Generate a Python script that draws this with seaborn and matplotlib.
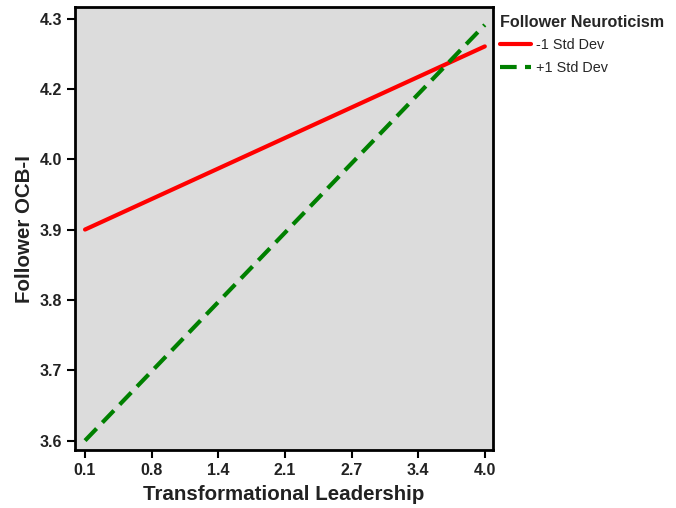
import pandas as pd
import numpy as np
import seaborn as sns
import matplotlib.pyplot as plt

# donnees (pentes simples)
leadership = [0.1, 4.0]
ocb_minus = [3.933, 4.222]   # -1 Std Dev
ocb_plus = [3.600, 4.256]    # +1 Std Dev
groups = ['-1 Std Dev', '+1 Std Dev']

x_ticks = [0.1, 0.75, 1.4, 2.05, 2.7, 3.35, 4.0]
x_tick_labels = ['0.1', '0.8', '1.4', '2.1', '2.7', '3.4', '4.0']
y_ticks = [3.6, 3.711, 3.822, 3.933, 4.044, 4.155, 4.266]
y_tick_labels = ['3.6', '3.7', '3.8', '3.9', '4.0', '4.2', '4.3']

df = pd.DataFrame({
    'Transformational Leadership': leadership * 2,
    'Follower OCB-I': ocb_minus + ocb_plus,
    'Follower Neuroticism': [groups[0]] * 2 + [groups[1]] * 2,
})

sns.set_style('white')
plt.rcParams['font.family'] = ['Liberation Sans', 'DejaVu Sans']

fig = plt.figure(figsize=(6.76, 5.08), dpi=100)
ax = fig.add_axes([0.111, 0.114, 0.618, 0.872])
ax.set_facecolor('#dcdcdc')

sns.lineplot(data=df, x='Transformational Leadership', y='Follower OCB-I',
             hue='Follower Neuroticism', style='Follower Neuroticism',
             palette={groups[0]: '#ff0000', groups[1]: '#008000'},
             dashes={groups[0]: '', groups[1]: (4, 2)},
             linewidth=3, ax=ax)

ax.set_xlim(0.0025, 4.078)
ax.set_ylim(3.585, 4.284)
ax.set_xticks(x_ticks)
ax.set_xticklabels(x_tick_labels)
ax.set_yticks(y_ticks)
ax.set_yticklabels(y_tick_labels)
ax.tick_params(axis='both', which='both', direction='out', length=6, width=1.5,
               color='black', labelsize=11.5, bottom=True, left=True)
for lab in ax.get_xticklabels() + ax.get_yticklabels():
    lab.set_fontweight('bold')
    lab.set_color('#222222')

for sp in ax.spines.values():
    sp.set_color('black')
    sp.set_linewidth(2)

ax.set_xlabel('Transformational Leadership', fontsize=14.8, fontweight='bold', color='#222222', labelpad=5)
ax.set_ylabel('Follower OCB-I', fontsize=14.8, fontweight='bold', color='#222222', labelpad=4)

handles, labels = ax.get_legend_handles_labels()
leg = ax.legend(handles, labels, title='Follower Neuroticism', frameon=False,
                loc='upper left', bbox_to_anchor=(0.731, 0.982), bbox_transform=fig.transFigure,
                fontsize=10.4, handlelength=2.15, handletextpad=0.35, labelspacing=0.58,
                borderaxespad=0, alignment='left')
leg.get_title().set_fontweight('bold')
leg.get_title().set_fontsize(11.6)

fig.savefig('out.png', dpi=100)
